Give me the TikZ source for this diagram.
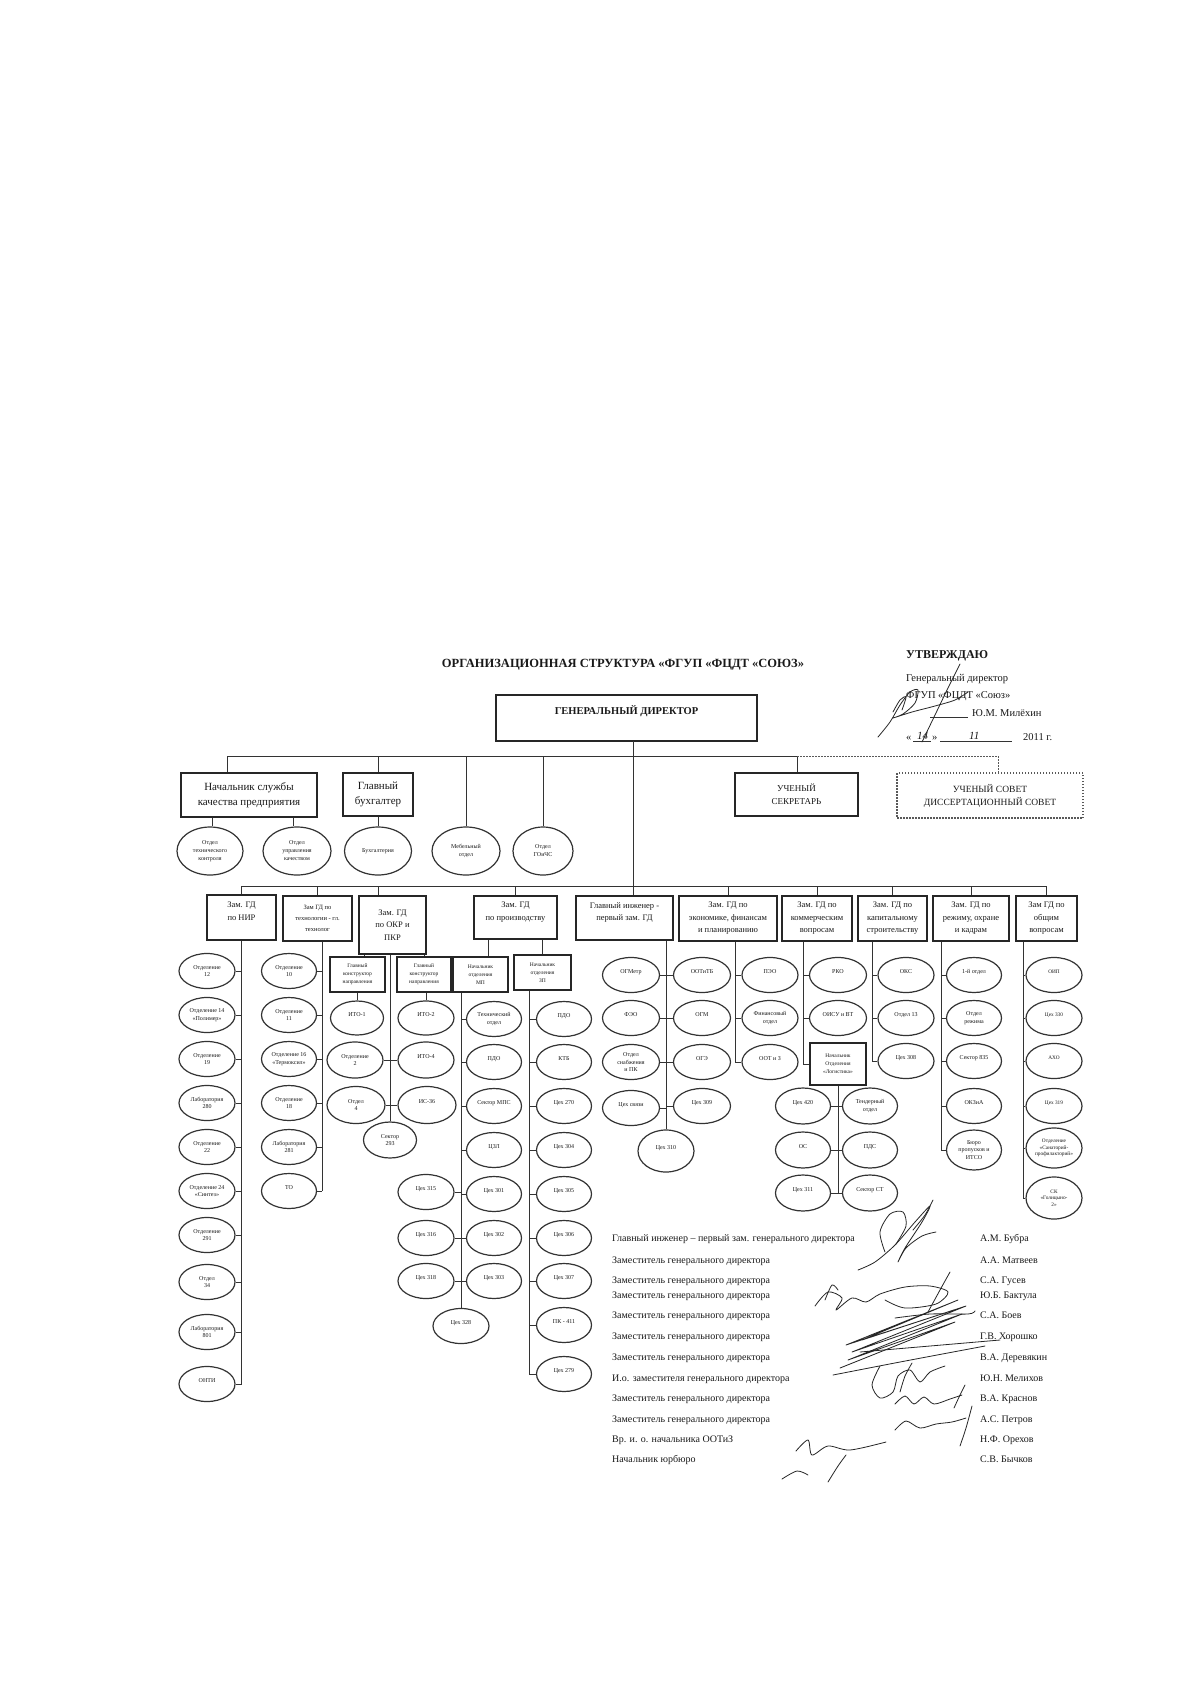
\documentclass[tikz,border=0pt]{standalone}
\usepackage{fontspec}
\setmainfont{Liberation Serif}
\usetikzlibrary{shapes.geometric}
\begin{document}
\begin{tikzpicture}[x=1pt,y=-1pt,
  ln/.style={line width=1pt, draw=black!80},
  dotln/.style={line width=0.9pt, draw=black!65, dash pattern=on 1.5pt off 1.5pt},
  ell/.style={draw=black!80, line width=1.2pt, ellipse, inner sep=0pt,
    minimum width=56pt, minimum height=35pt, align=center, text=black!90,
    font=\fontsize{6}{7.5}\selectfont},
  bx/.style={draw=black!85, line width=1.2pt, rectangle, inner sep=0pt, align=center, text=black!90},
  dep/.style={bx, minimum height=45pt, font=\fontsize{8.5}{12.5}\selectfont},
  subbx/.style={bx, minimum width=55pt, minimum height=35pt, font=\fontsize{5.5}{8}\selectfont},
  sig/.style={line width=0.8pt, draw=black!85, line cap=round, line join=round},
  lst/.style={anchor=base west, inner sep=0pt, text=black!90, font=\fontsize{10}{12}\selectfont},
]
\fill[white] (0,0) rectangle (1191,1684);
\useasboundingbox (0,0) rectangle (1191,1684);

% ---------- title ----------
\node[font=\bfseries\fontsize{12.5}{14}\selectfont, inner sep=0pt, text=black!90] (title) at (623,665) {ОРГАНИЗАЦИОННАЯ СТРУКТУРА «ФГУП «ФЦДТ «СОЮЗ»};

% ---------- approval ----------
\node[lst, font=\bfseries\fontsize{12}{14}\selectfont] (utv) at (906,658) {УТВЕРЖДАЮ};
\node[lst, font=\fontsize{10.5}{12}\selectfont] (gdir) at (906,681) {Генеральный директор};
\node[lst, font=\fontsize{10.5}{12}\selectfont] (fgup) at (906,698) {ФГУП «ФЦДТ «Союз»};
\node[lst, font=\fontsize{10.5}{12}\selectfont] (mil) at (972,716) {Ю.М. Милёхин};
\draw[line width=0.6pt, black!80] (930,717) -- (968,717);
\node[lst, font=\fontsize{10.5}{12}\selectfont] (q1) at (906,740) {«};
\node[lst, font=\itshape\fontsize{11}{12}\selectfont] (d14) at (917,739) {14};
\node[lst, font=\fontsize{10.5}{12}\selectfont] (q2) at (932,740) {»};
\draw[line width=0.6pt, black!80] (913,741) -- (931,741);
\draw[line width=0.6pt, black!80] (940,741) -- (1012,741);
\node[lst, font=\itshape\fontsize{11}{12}\selectfont] (d11) at (969,739) {11};
\node[lst, font=\fontsize{10.5}{12}\selectfont] (yr) at (1023,740) {2011 г.};
\draw[sig] plot[smooth] coordinates {(878,737) (890,722) (900,705) (910,692) (918,690) (915,703) (903,714) (893,718) (912,712) (935,706) (955,700) (968,692)};
\draw[sig] plot[smooth] coordinates {(922,742) (935,715) (948,688) (960,664)};
\draw[sig] plot[smooth] coordinates {(893,712) (900,700) (906,697) (902,710)};

% ---------- general director ----------
\node[bx, minimum width=261pt, minimum height=46pt] (gd) at (626.5,718) {};
\node[font=\bfseries\fontsize{10.5}{12}\selectfont, inner sep=0pt, text=black!90] (gdt) at (626.5,711) {ГЕНЕРАЛЬНЫЙ ДИРЕКТОР};

% ---------- top level ----------
\node[bx, minimum width=136pt, minimum height=44pt, font=\fontsize{11}{15}\selectfont] (nsk) at (249,795) {Начальник службы\\качества предприятия};
\node[bx, minimum width=70pt, minimum height=43pt, font=\fontsize{11}{15}\selectfont] (glb) at (378,794.5) {Главный\\бухгалтер};
\node[bx, minimum width=123pt, minimum height=43pt, font=\fontsize{9}{13}\selectfont] (usek) at (796.5,794.5) {УЧЕНЫЙ\\СЕКРЕТАРЬ};
\node[bx, dash pattern=on 1.5pt off 1.5pt, draw=black!65, minimum width=186pt, minimum height=45pt, font=\fontsize{9.5}{13}\selectfont] (usov) at (990,795.5) {УЧЕНЫЙ СОВЕТ\\ДИССЕРТАЦИОННЫЙ СОВЕТ};

\node[ell, minimum width=66pt, minimum height=48pt, font=\fontsize{6}{8}\selectfont] (otk) at (210,851) {Отдел\\технического\\контроля};
\node[ell, minimum width=68pt, minimum height=48pt, font=\fontsize{6}{8}\selectfont] (ouk) at (297,851) {Отдел\\управления\\качеством};
\node[ell, minimum width=67pt, minimum height=48pt, font=\fontsize{6}{8}\selectfont] (buh) at (378,851) {Бухгалтерия};
\node[ell, minimum width=68pt, minimum height=48pt, font=\fontsize{6}{8}\selectfont] (meb) at (466,851) {Мебельный\\отдел};
\node[ell, minimum width=60pt, minimum height=48pt, font=\fontsize{6}{8}\selectfont] (goi) at (543,851) {Отдел\\ГОиЧС};

\coordinate (tb) at (227,756);
\coordinate (te) at (797,756);
\coordinate (tdot) at (998,756);
\coordinate (gdx) at (633,741);
\coordinate (k1) at (212,0);
\coordinate (k2) at (293,0);
\draw[ln] (tb) -- (te);
\draw[ln] (tb) -- (tb |- nsk.north);
\draw[ln] (glb.north |- tb) -- (glb.north);
\draw[ln] (meb.north |- tb) -- (meb.north);
\draw[ln] (goi.north |- tb) -- (goi.north);
\draw[ln] (te) -- (te |- usek.north);
\draw[dotln] (te) -- (tdot) -- (tdot |- usov.north);
\draw[ln] (nsk.south -| k1) -- (otk.north -| k1);
\draw[ln] (nsk.south -| k2) -- (ouk.north -| k2);
\draw[ln] (glb.south) -- (buh.north);

% ---------- deputies ----------
\node[dep, minimum width=69pt] (d1) at (241.5,917.5) {Зам. ГД\\по НИР\\~};
\node[dep, minimum width=69pt, font=\fontsize{6.5}{11}\selectfont] (d2) at (317.5,918.5) {Зам ГД по\\технологии - гл.\\технолог};
\node[dep, minimum width=67pt, minimum height=58pt] (d3) at (392.5,925) {Зам. ГД\\по ОКР и\\ПКР};
\node[dep, minimum width=83pt, minimum height=43pt] (d4) at (515.5,917.5) {Зам. ГД\\по производству\\~};
\node[dep, minimum width=97pt, minimum height=44pt] (d5) at (624.5,918) {Главный инженер -\\первый зам. ГД\\~};
\node[dep, minimum width=98pt] (d6) at (728,918.5) {Зам. ГД по\\экономике, финансам\\и планированию};
\node[dep, minimum width=70pt] (d7) at (817,918.5) {Зам. ГД по\\коммерческим\\вопросам};
\node[dep, minimum width=69pt] (d8) at (892.5,918.5) {Зам. ГД по\\капитальному\\строительству};
\node[dep, minimum width=76pt] (d9) at (971,918.5) {Зам. ГД по\\режиму, охране\\и кадрам};
\node[dep, minimum width=61pt] (d10) at (1046.5,918.5) {Зам ГД по\\общим\\вопросам};

\coordinate (db) at (0,886);
\coordinate (d3x) at (378,0);
\draw[ln] (d1.north |- db) -- (d10.north |- db);
\draw[ln] (gdx) -- (gdx |- d5.north);
\foreach \d in {d1,d2,d4,d6,d7,d8,d9,d10} { \draw[ln] (\d.north |- db) -- (\d.north); }
\draw[ln] (d3x |- db) -- (d3x |- d3.north);

% ---------- NIR ----------
\coordinate (nirx) at (d1.south);
\foreach \i/\y/\t in {1/971/{Отделение\\12}, 2/1015/{Отделение 14\\«Полимер»}, 3/1059/{Отделение\\19}, 4/1103/{Лаборатория\\280}, 5/1147/{Отделение\\22}, 6/1191/{Отделение 24\\«Синтез»}, 7/1235/{Отделение\\291}, 8/1282/{Отдел\\34}, 9/1332/{Лаборатория\\801}, 10/1384/{ОНТИ\\~}}
  { \node[ell] (nir\i) at (207,\y) {\t}; \draw[ln] (nir\i.east) -- (nir\i.east -| nirx); }
\draw[ln] (d1.south) -- (nirx |- nir10.east);

% ---------- technology ----------
\coordinate (tecx) at (322,0);
\foreach \i/\y/\t in {1/971/{Отделение\\10}, 2/1015/{Отделение\\11}, 3/1059/{Отделение 16\\«Термоксил»}, 4/1103/{Отделение\\18}, 5/1147/{Лаборатория\\281}, 6/1191/{ТО\\~}}
  { \node[ell, minimum width=55pt] (tec\i) at (289,\y) {\t}; \draw[ln] (tec\i.east) -- (tec\i.east -| tecx); }
\draw[ln] (tecx |- d2.south) -- (tecx |- tec6.east);

% ---------- OKR ----------
\node[subbx] (gk1) at (357.5,974.5) {Главный\\конструктор\\направления};
\node[subbx, minimum width=54pt] (gk2) at (424,974.5) {Главный\\конструктор\\направления};
\coordinate (g1x) at (364,0);
\draw[ln] (d3.south -| g1x) -- (gk1.north -| g1x);
\draw[ln] (d3.south -| gk2.north) -- (gk2.north);
\node[ell, minimum width=53pt, minimum height=34pt] (ito1) at (357,1018) {ИТО-1\\~};
\node[ell, minimum height=36pt] (otd2) at (355,1060) {Отделение\\2};
\node[ell, minimum width=58pt, minimum height=37pt] (otd4) at (356,1105) {Отдел\\4};
\node[ell, minimum height=34pt] (ito2) at (426,1018) {ИТО-2\\~};
\node[ell, minimum height=36pt] (ito4) at (426,1060) {ИТО-4\\~};
\node[ell, minimum width=58pt, minimum height=37pt] (is36) at (427,1105) {ИС-36\\~};
\node[ell, minimum width=53pt, minimum height=36pt] (s293) at (390,1140) {Сектор\\293};
\draw[ln] (gk1.south -| ito1.north) -- (ito1.north);
\draw[ln] (gk2.south -| ito2.north) -- (ito2.north);
\draw[ln] (d3.south -| s293.north) -- (s293.north);
\draw[ln] (otd2.east) -- (ito4.west);
\draw[ln] (otd4.east) -- (is36.west);

% ---------- production ----------
\node[subbx] (mp) at (480.5,974.5) {Начальник\\отделения\\МП};
\node[subbx, minimum width=57pt] (zp) at (542.5,972.5) {Начальник\\отделения\\ЗП};
\coordinate (mpd) at (488,0);
\draw[ln] (d4.south -| mpd) -- (mp.north -| mpd);
\draw[ln] (d4.south -| zp.north) -- (zp.north);
\coordinate (mpx) at (461,0);
\foreach \i/\y/\t in {1/1019/{Технический\\отдел}, 2/1062/{ПДО\\~}, 3/1106/{Сектор МПС\\~}, 4/1150/{ЦЗЛ\\~}, 5/1194/{Цех 301\\~}, 6/1238/{Цех 302\\~}, 7/1281/{Цех 303\\~}}
  { \node[ell, minimum width=55pt] (mpr\i) at (494,\y) {\t}; \draw[ln] (mpr\i.west) -- (mpr\i.west -| mpx); }
\foreach \i/\y/\t in {1/1192/{Цех 315\\~}, 2/1238/{Цех 316\\~}, 3/1281/{Цех 318\\~}}
  { \node[ell] (mpl\i) at (426,\y) {\t}; \draw[ln] (mpl\i.east) -- (mpl\i.east -| mpx); }
\node[ell] (c328) at (461,1326) {Цех 328\\~};
\draw[ln] (mp.south -| mpx) -- (c328.north);
\coordinate (zpx) at (529,0);
\foreach \i/\y/\t in {1/1019/{ПДО\\~}, 2/1062/{КТБ\\~}, 3/1106/{Цех 270\\~}, 4/1150/{Цех 304\\~}, 5/1194/{Цех 305\\~}, 6/1238/{Цех 306\\~}, 7/1281/{Цех 307\\~}, 8/1325/{ПК - 411\\~}, 9/1374/{Цех 279\\~}}
  { \node[ell, minimum width=55pt] (zpr\i) at (564,\y) {\t}; \draw[ln] (zpr\i.west) -- (zpr\i.west -| zpx); }
\draw[ln] (zp.south -| zpx) -- (zpx |- zpr9.west);

% ---------- chief engineer ----------
\coordinate (gix) at (666,0);
\foreach \i/\y/\t in {1/975/{ОГМетр\\~}, 2/1018/{ФЭО\\~}, 3/1062/{Отдел\\снабжения\\и ПК}, 4/1108/{Цех связи\\~}}
  { \node[ell, minimum width=57pt] (gil\i) at (631,\y) {\t}; \draw[ln] (gil\i.east) -- (gil\i.east -| gix); }
\foreach \i/\y/\t in {1/975/{ООТиТБ\\~}, 2/1018/{ОГМ\\~}, 3/1062/{ОГЭ\\~}, 4/1106/{Цех 309\\~}}
  { \node[ell, minimum width=57pt] (gir\i) at (702,\y) {\t}; \draw[ln] (gir\i.west) -- (gir\i.west -| gix); }
\node[ell, minimum height=42pt] (c310) at (666,1151) {Цех 310\\~};
\draw[ln] (d5.south -| gix) -- (c310.north);

% ---------- economics ----------
\coordinate (ecx) at (735,0);
\foreach \i/\y/\t in {1/975/{ПЭО\\~}, 2/1018/{Финансовый\\отдел}, 3/1062/{ООТ и З\\~}}
  { \node[ell] (ec\i) at (770,\y) {\t}; \draw[ln] (ec\i.west) -- (ec\i.west -| ecx); }
\draw[ln] (d6.south -| ecx) -- (ecx |- ec3.west);

% ---------- commerce ----------
\coordinate (cmx) at (803,0);
\foreach \i/\y/\t in {1/975/{РКО\\~}, 2/1018/{ОИСУ и ВТ\\~}}
  { \node[ell, minimum width=57pt] (cm\i) at (838,\y) {\t}; \draw[ln] (cm\i.west) -- (cm\i.west -| cmx); }
\node[subbx, minimum width=56pt, minimum height=42pt] (log) at (838,1064) {Начальник\\Отделения\\«Логистика»};
\draw[ln] (d7.south -| cmx) -- (cmx |- log.west) -- (log.west);
\foreach \i/\y/\t in {1/1106/{Цех 420\\~}, 2/1150/{ОС\\~}, 3/1193/{Цех 311\\~}}
  { \node[ell, minimum width=55pt, minimum height=36pt] (lgl\i) at (803,\y) {\t}; \draw[ln] (lgl\i.east) -- (lgl\i.east -| log.south); }
\foreach \i/\y/\t in {1/1106/{Тендерный\\отдел}, 2/1150/{ПДС\\~}, 3/1193/{Сектор СТ\\~}}
  { \node[ell, minimum width=55pt, minimum height=36pt] (lgr\i) at (870,\y) {\t}; \draw[ln] (lgr\i.west) -- (lgr\i.west -| log.south); }
\draw[ln] (log.south) -- (log.south |- lgl3.east);

% ---------- capital construction ----------
\coordinate (cpx) at (872,0);
\foreach \i/\y/\t in {1/975/{ОКС\\~}, 2/1018/{Отдел 13\\~}, 3/1061/{Цех 308\\~}}
  { \node[ell] (cp\i) at (906,\y) {\t}; \draw[ln] (cp\i.west) -- (cp\i.west -| cpx); }
\draw[ln] (d8.south -| cpx) -- (cpx |- cp3.west);

% ---------- regime ----------
\coordinate (rgx) at (941,0);
\foreach \i/\y/\t/\h in {1/975/{1-й отдел\\~}/35, 2/1018/{Отдел\\режима}/35, 3/1061/{Сектор 835\\~}/35, 4/1106/{ОКЗиА\\~}/35, 5/1150/{Бюро\\пропусков и\\ИТСО}/40}
  { \node[ell, minimum width=55pt, minimum height=\h pt] (rg\i) at (974,\y) {\t}; \draw[ln] (rg\i.west) -- (rg\i.west -| rgx); }
\draw[ln] (d9.south -| rgx) -- (rgx |- rg5.west);

% ---------- general affairs ----------
\coordinate (gnx) at (1023,0);
\foreach \i/\y/\t/\h in {1/975/{ОИП\\~}/35, 2/1018/{Цех 330\\~}/35, 3/1061/{АХО\\~}/35, 4/1106/{Цех 319\\~}/35, 5/1148/{Отделение\\«Санаторий-\\профилакторий»}/40, 6/1198/{СК\\«Голицыно-\\2»}/42}
  { \node[ell, minimum height=\h pt, font=\fontsize{5.3}{6.5}\selectfont] (gn\i) at (1054,\y) {\t}; \draw[ln] (gn\i.west) -- (gn\i.west -| gnx); }
\draw[ln] (d10.south -| gnx) -- (gnx |- gn6.west);

% ---------- signature list ----------
\foreach \i/\y/\a/\b in {1/1241/{Главный инженер – первый зам. генерального директора}/{А.М. Бубра},
  2/1263/{Заместитель генерального директора}/{А.А. Матвеев},
  3/1283/{Заместитель генерального директора}/{С.А. Гусев},
  4/1298/{Заместитель генерального директора}/{Ю.Б. Бактула},
  5/1318/{Заместитель генерального директора}/{С.А. Боев},
  6/1339/{Заместитель генерального директора}/{Г.В. Хорошко},
  7/1360/{Заместитель генерального директора}/{В.А. Деревякин},
  8/1381/{И.о. заместителя генерального директора}/{Ю.Н. Мелихов},
  9/1401/{Заместитель генерального директора}/{В.А. Краснов},
  10/1422/{Заместитель генерального директора}/{А.С. Петров},
  11/1442/{Вр. и. о. начальника ООТиЗ}/{Н.Ф. Орехов},
  12/1462/{Начальник юрбюро}/{С.В. Бычков}}
  { \node[lst] (pos\i) at (612,\y) {\a}; \node[lst] (nm\i) at (980,\y) {\b}; }

% ---------- signatures (scribbles) ----------
\draw[sig] plot[smooth] coordinates {(858,1270) (875,1262) (895,1245) (915,1222) (930,1206) (922,1222) (905,1248) (898,1262) (906,1248) (922,1236) (936,1232)};
\draw[sig] plot[smooth] coordinates {(885,1252) (880,1232) (890,1214) (903,1212) (906,1226) (896,1244)};
\draw[sig] plot[smooth] coordinates {(913,1230) (925,1215) (933,1200)};
\draw[sig] plot[smooth] coordinates {(815,1306) (828,1292) (842,1298) (836,1310) (852,1298) (866,1302) (880,1294) (905,1287) (930,1286) (948,1292) (936,1304) (905,1308) (885,1300)};
\draw[sig] plot[smooth] coordinates {(928,1312) (940,1290) (950,1272)};
\draw[sig] plot[smooth] coordinates {(825,1300) (832,1285) (838,1290)};
\draw[sig] plot[smooth] coordinates {(895,1318) (930,1314) (968,1314) (975,1311)};
\draw[sig] plot coordinates {(840,1368) (955,1322) (848,1360) (962,1314) (852,1352) (966,1306) (846,1345) (958,1300) (862,1340) (960,1308)};
\draw[sig] plot[smooth] coordinates {(833,1375) (900,1362) (985,1346)};
\draw[sig] plot[smooth] coordinates {(860,1352) (930,1346) (1000,1340)};
\draw[sig] plot[smooth] coordinates {(880,1366) (872,1385) (880,1398) (893,1392) (898,1376) (910,1370) (920,1382) (930,1372) (945,1366)};
\draw[sig] plot[smooth] coordinates {(900,1392) (905,1376) (912,1363)};
\draw[sig] plot[smooth] coordinates {(895,1404) (905,1396) (914,1404) (924,1397) (934,1404) (950,1399) (962,1395)};
\draw[sig] plot[smooth] coordinates {(954,1408) (960,1395) (965,1385)};
\draw[sig] plot[smooth] coordinates {(895,1430) (906,1421) (920,1428) (936,1424) (952,1422) (966,1418)};
\draw[sig] plot[smooth] coordinates {(960,1446) (966,1428) (972,1406)};
\draw[sig] plot[smooth] coordinates {(796,1451) (808,1440) (812,1455) (828,1446) (850,1450) (886,1442)};
\draw[sig] plot[smooth] coordinates {(782,1479) (797,1471) (808,1475)};
\draw[sig] plot[smooth] coordinates {(828,1482) (838,1466) (846,1455)};
\end{tikzpicture}
\end{document}
